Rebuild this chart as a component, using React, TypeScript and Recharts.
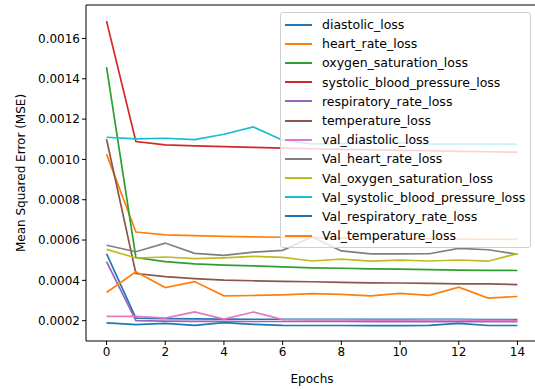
import { LineChart, Line, XAxis, YAxis, Legend, ReferenceLine } from 'recharts';

const epochs = [0, 1, 2, 3, 4, 5, 6, 7, 8, 9, 10, 11, 12, 13, 14];
const xTicks = [0, 2, 4, 6, 8, 10, 12, 14];
const yTicks = [0.0002, 0.0004, 0.0006, 0.0008, 0.001, 0.0012, 0.0014, 0.0016];
const Y_MIN = 0.0000992;
const Y_MAX = 0.001766;

const diastolic = [0.000532, 0.000213, 0.00021, 0.000209, 0.000208, 0.000207, 0.000207, 0.000206, 0.000206, 0.000206, 0.000206, 0.000206, 0.000206, 0.000205, 0.000205];
const heartRate = [0.001026, 0.00064, 0.000626, 0.000622, 0.000618, 0.000616, 0.000614, 0.000612, 0.00061, 0.000609, 0.000607, 0.000606, 0.000605, 0.000604, 0.000603];
const oxygen = [0.001458, 0.000513, 0.000493, 0.000482, 0.000476, 0.000472, 0.000467, 0.000462, 0.00046, 0.000457, 0.000456, 0.000453, 0.000451, 0.00045, 0.000449];
const systolic = [0.001686, 0.001089, 0.001072, 0.001067, 0.001063, 0.00106, 0.001056, 0.001053, 0.00105, 0.001048, 0.001045, 0.001043, 0.00104, 0.001038, 0.001036];
const respiratory = [0.000493, 0.0002, 0.000198, 0.000197, 0.000197, 0.000196, 0.000196, 0.000196, 0.000196, 0.000195, 0.000195, 0.000195, 0.000195, 0.000195, 0.000195];
const temperature = [0.0011, 0.000434, 0.000419, 0.000409, 0.000401, 0.000398, 0.000395, 0.000393, 0.00039, 0.000388, 0.000387, 0.000385, 0.000383, 0.000383, 0.000379];
const valDiastolic = [0.000221, 0.000222, 0.000213, 0.000244, 0.000208, 0.000243, 0.000205, 0.000204, 0.000204, 0.000203, 0.000203, 0.000204, 0.000204, 0.000202, 0.000201];
const valHeartRate = [0.000574, 0.000542, 0.000585, 0.000534, 0.000524, 0.00054, 0.000549, 0.000615, 0.000546, 0.000531, 0.000531, 0.000532, 0.000559, 0.000552, 0.000529];
const valOxygen = [0.000554, 0.000511, 0.000516, 0.000508, 0.000512, 0.000519, 0.000514, 0.000496, 0.000505, 0.000495, 0.0005, 0.000496, 0.000501, 0.000495, 0.000533];
const valSystolic = [0.00111, 0.001102, 0.001105, 0.001098, 0.001125, 0.001161, 0.001095, 0.001077, 0.001078, 0.001082, 0.001083, 0.001076, 0.001076, 0.001076, 0.001076];
const valRespiratory = [0.000189, 0.00018, 0.000187, 0.000177, 0.00019, 0.000182, 0.000177, 0.000176, 0.000176, 0.000175, 0.000175, 0.000177, 0.000187, 0.000176, 0.000176];
const valTemperature = [0.00034, 0.000443, 0.000364, 0.000394, 0.000323, 0.000325, 0.000328, 0.000334, 0.00033, 0.000323, 0.000335, 0.000326, 0.000366, 0.000312, 0.00032];

const series = [
  { key: 'diastolic_loss', values: diastolic, color: '#1f77b4' },
  { key: 'heart_rate_loss', values: heartRate, color: '#ff7f0e' },
  { key: 'oxygen_saturation_loss', values: oxygen, color: '#2ca02c' },
  { key: 'systolic_blood_pressure_loss', values: systolic, color: '#d62728' },
  { key: 'respiratory_rate_loss', values: respiratory, color: '#9467bd' },
  { key: 'temperature_loss', values: temperature, color: '#8c564b' },
  { key: 'val_diastolic_loss', values: valDiastolic, color: '#e377c2' },
  { key: 'Val_heart_rate_loss', values: valHeartRate, color: '#7f7f7f' },
  { key: 'Val_oxygen_saturation_loss', values: valOxygen, color: '#bcbd22' },
  { key: 'Val_systolic_blood_pressure_loss', values: valSystolic, color: '#17becf' },
  { key: 'Val_respiratory_rate_loss', values: valRespiratory, color: '#1f77b4' },
  { key: 'Val_temperature_loss', values: valTemperature, color: '#ff7f0e' },
];

const data = epochs.map((e, i) => {
  const row: Record<string, number> = { epoch: e };
  series.forEach((s) => { row[s.key] = s.values[i]; });
  return row;
});

const FONT = '"DejaVu Sans", sans-serif';
const tickStyle = { fontSize: 12, fill: '#000', fontFamily: FONT };

// matplotlib-style legend box, kept in plot order (recharts sorts its payload)
function LegendBox() {
  return (
    <div style={{
      background: 'rgba(255,255,255,0.8)', border: '1px solid #d0d0d0', borderRadius: 3,
      padding: '2px 0 2px 0', fontFamily: FONT, fontSize: 12.5, color: '#000',
    }}>
      {series.map((s) => (
        <div key={s.key} style={{ display: 'flex', alignItems: 'center', height: 19.2 }}>
          <div style={{ width: 27, height: 0, borderTop: `2px solid ${s.color}`, marginLeft: 4, marginRight: 10 }} />
          <span style={{ whiteSpace: 'nowrap' }}>{s.key}</span>
        </div>
      ))}
    </div>
  );
}

export default function App() {
  return (
    <div style={{ position: 'absolute', left: 0, top: 0, width: 535, height: 389, overflow: 'hidden', background: '#fff' }}>
      <LineChart width={545} height={389} data={data} margin={{ top: 5, right: 7, bottom: 0, left: 0 }}>
        <XAxis
          dataKey="epoch" type="number" domain={[-0.7, 14.7]} ticks={xTicks} allowDataOverflow
          height={48} tick={tickStyle} tickSize={4} stroke="#000" tickLine={{ stroke: '#000' }}
          axisLine={{ stroke: '#000', strokeWidth: 1 }}
          label={{ value: 'Epochs', position: 'insideBottom', offset: 6, style: { fontSize: 12, fill: '#000', fontFamily: FONT } }}
        />
        <YAxis
          type="number" domain={[Y_MIN, Y_MAX]} ticks={yTicks} allowDataOverflow
          width={86} tick={tickStyle} tickSize={4} tickFormatter={(v: number) => v.toFixed(4)}
          tickLine={{ stroke: '#000' }} axisLine={{ stroke: '#000', strokeWidth: 1 }}
          label={{ value: 'Mean Squared Error (MSE)', angle: -90, position: 'insideLeft', offset: 21, style: { textAnchor: 'middle', fontSize: 12, fill: '#000', fontFamily: FONT } }}
        />
        {/* top spine */}
        <ReferenceLine y={Y_MAX} stroke="#000" strokeWidth={1} ifOverflow="extendDomain" />
        {series.map((s) => (
          <Line
            key={s.key} dataKey={s.key} name={s.key} stroke={s.color} strokeWidth={1.7}
            dot={false} activeDot={false} isAnimationActive={false} type="linear"
          />
        ))}
        <Legend
          layout="vertical" align="center" verticalAlign="middle"
          wrapperStyle={{ top: 12, left: 280, width: 251, height: 'auto' }}
          content={LegendBox}
        />
      </LineChart>
    </div>
  );
}
